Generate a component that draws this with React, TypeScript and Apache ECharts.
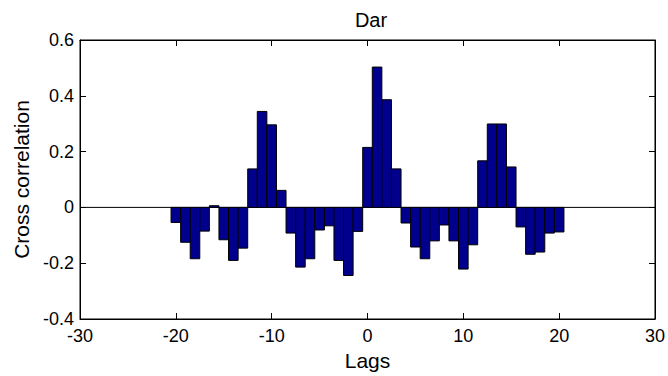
import React, { useEffect, useRef } from "react";
import * as echarts from "echarts";

const lags: number[] = [
  -20, -19, -18, -17, -16, -15, -14, -13, -12, -11, -10, -9, -8, -7, -6, -5, -4, -3, -2, -1,
  0, 1, 2, 3, 4, 5, 6, 7, 8, 9, 10, 11, 12, 13, 14, 15, 16, 17, 18, 19, 20,
];
const corr: number[] = [
  -0.054, -0.125, -0.184, -0.085, 0.006, -0.116, -0.19, -0.146, 0.138, 0.344, 0.296, 0.061,
  -0.092, -0.214, -0.184, -0.081, -0.066, -0.19, -0.244, -0.086,
  0.215, 0.503, 0.386, 0.138, -0.056, -0.142, -0.184, -0.12, -0.063, -0.12, -0.221, -0.134,
  0.167, 0.299, 0.299, 0.145, -0.07, -0.168, -0.16, -0.092, -0.088,
];
const xTicks = { min: -30, max: 30, interval: 10 };
const yTicks = { min: -0.4, max: 0.6, interval: 0.2 };
const title = "Dar";
const xName = "Lags";
const yName = "Cross correlation";

const FONT = "Liberation Sans, Arial, Helvetica, sans-serif";

export default function App() {
  const ref = useRef<HTMLDivElement>(null);
  useEffect(() => {
    if (!ref.current) return;
    const chart = echarts.init(ref.current, undefined, { renderer: "svg" });
    const data = lags.map((l, i) => [l, corr[i]]);
    const tickStyle = { show: true, inside: true, length: 6, lineStyle: { color: "#000", width: 1 } };
    chart.setOption({
      animation: false,
      backgroundColor: "#fff",
      textStyle: { fontFamily: FONT },
      title: {
        text: title,
        left: 366,
        textAlign: "center",
        top: 5,
        textStyle: { fontFamily: FONT, fontSize: 20, fontWeight: "normal", color: "#000" },
      },
      grid: { left: 80, right: 11, top: 40, bottom: 57, show: true, borderColor: "#000", borderWidth: 1 },
      xAxis: [
        {
          type: "value",
          min: xTicks.min,
          max: xTicks.max,
          interval: xTicks.interval,
          position: "bottom",
          axisLine: { show: true, onZero: false, lineStyle: { color: "#000", width: 1 } },
          axisTick: tickStyle,
          splitLine: { show: false },
          axisLabel: { color: "#000", fontSize: 18, fontFamily: FONT, margin: 8 },
          name: xName,
          nameLocation: "middle",
          nameGap: 29,
          nameTextStyle: { color: "#000", fontSize: 21, fontFamily: FONT },
        },
        {
          type: "value",
          min: xTicks.min,
          max: xTicks.max,
          interval: xTicks.interval,
          position: "top",
          axisLine: { show: true, onZero: false, lineStyle: { color: "#000", width: 1 } },
          axisTick: tickStyle,
          splitLine: { show: false },
          axisLabel: { show: false },
        },
      ],
      yAxis: [
        {
          type: "value",
          min: yTicks.min,
          max: yTicks.max,
          interval: yTicks.interval,
          position: "left",
          axisLine: { show: true, onZero: false, lineStyle: { color: "#000", width: 1 } },
          axisTick: tickStyle,
          splitLine: { show: false },
          axisLabel: {
            color: "#000",
            fontSize: 18,
            fontFamily: FONT,
            margin: 6,
            formatter: (v: number) => (Math.abs(v) < 1e-9 ? "0" : String(Math.round(v * 10) / 10)),
          },
          name: yName,
          nameLocation: "middle",
          nameGap: 47,
          nameTextStyle: { color: "#000", fontSize: 21, fontFamily: FONT },
        },
        {
          type: "value",
          min: yTicks.min,
          max: yTicks.max,
          interval: yTicks.interval,
          position: "right",
          axisLine: { show: true, onZero: false, lineStyle: { color: "#000", width: 1 } },
          axisTick: tickStyle,
          splitLine: { show: false },
          axisLabel: { show: false },
        },
      ],
      series: [
        {
          type: "custom",
          xAxisIndex: 0,
          yAxisIndex: 0,
          data,
          renderItem: (params: any, api: any) => {
            const x = api.value(0);
            const y = api.value(1);
            const p1 = api.coord([x - 0.5, y]);
            const p2 = api.coord([x + 0.5, 0]);
            const top = Math.min(p1[1], p2[1]);
            const h = Math.abs(p2[1] - p1[1]);
            return {
              type: "rect",
              shape: { x: p1[0], y: top, width: p2[0] - p1[0], height: h },
              style: { fill: "#00008C", stroke: "#000", lineWidth: 1 },
            };
          },
          z: 2,
        },
        {
          type: "line",
          xAxisIndex: 0,
          yAxisIndex: 0,
          data: [
            [xTicks.min, 0],
            [xTicks.max, 0],
          ],
          symbol: "none",
          lineStyle: { color: "#000", width: 1 },
          silent: true,
          z: 1,
        },
      ],
    });
    return () => chart.dispose();
  }, []);
  return (
    <div
      ref={ref}
      style={{ position: "fixed", left: 0, top: 0, width: 668, height: 376, background: "#fff" }}
    />
  );
}
